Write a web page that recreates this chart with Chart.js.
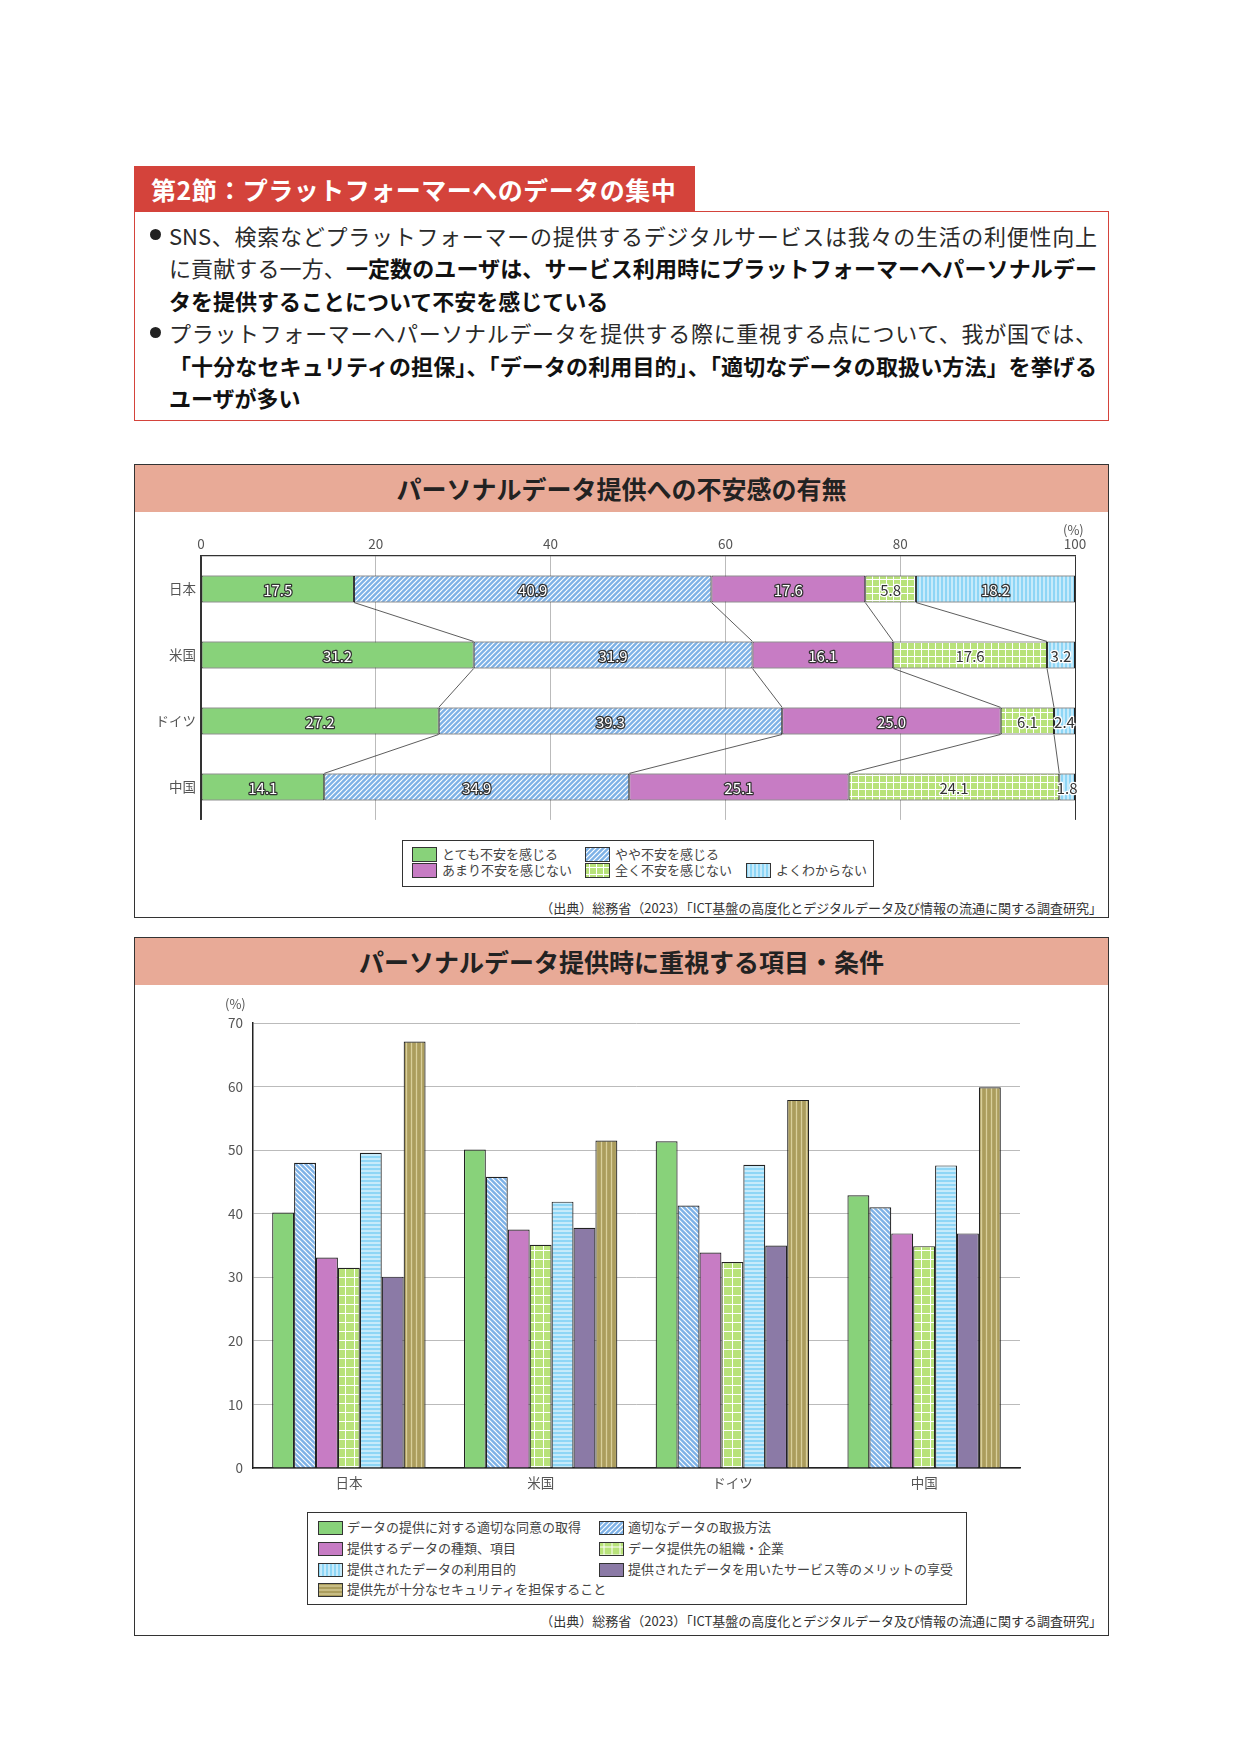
<!DOCTYPE html>
<html lang="ja">
<head>
<meta charset="utf-8">
<script src="https://cdn.jsdelivr.net/npm/chart.js@4.4.0/dist/chart.umd.min.js"></script>
<style>
body { margin: 0; background: #fff; font-family: "Noto Sans CJK JP", "Noto Sans", sans-serif; color: #222; }
#page { position: relative; width: 1241px; height: 1754px; overflow: hidden; }
.abs { position: absolute; }
.tab { left: 134px; top: 166px; width: 561px; height: 46px; background: #d4433b; color: #fff;
  font-weight: bold; font-size: 25px; line-height: 46px; padding-left: 17px; box-sizing: border-box; white-space: nowrap; letter-spacing: 0.5px; }
.outline { left: 134px; top: 211px; width: 975px; height: 210px; border: 1.5px solid #d4433b; box-sizing: border-box; }
.line { left: 169px; width: 928px; height: 32px; line-height: 32px; font-size: 22px; white-space: nowrap; color: #2a2a2a; }
.line.full { text-align: justify; text-align-last: justify; }
.line b { color: #111; }
.dot { width: 11px; height: 11px; border-radius: 50%; background: #222; left: 150px; }
.box { left: 134px; width: 975px; border: 1.5px solid #333; box-sizing: border-box; }
.head { left: 0; top: 0; width: 100%; height: 47px; background: #e8aa97; text-align: center;
  font-weight: bold; font-size: 25px; line-height: 47px; color: #222; }
.legend { border: 1px solid #333; box-sizing: border-box; }
.item { height: 16px; line-height: 16px; font-size: 13px; color: #444; white-space: nowrap; }
.item canvas { position: absolute; left: 0; border: 1px solid #333; box-sizing: border-box; }
.item span { position: absolute; }
.src { right: 139px; font-size: 13px; color: #333; white-space: nowrap; height: 18px; line-height: 18px; }
.unit { font-size: 13px; color: #555; height: 16px; line-height: 16px; }
</style>
</head>
<body>
<div id="page">
  <div class="abs tab">第2節：プラットフォーマーへのデータの集中</div>
  <div class="abs outline"></div>
  <div class="abs dot" style="top:229px"></div>
  <div class="abs line full" style="top:219px">SNS、検索などプラットフォーマーの提供するデジタルサービスは我々の生活の利便性向上</div>
  <div class="abs line full" style="top:251px">に貢献する一方、<b>一定数のユーザは、サービス利用時にプラットフォーマーへパーソナルデー</b></div>
  <div class="abs line" style="top:284px"><b>タを提供することについて不安を感じている</b></div>
  <div class="abs dot" style="top:327px"></div>
  <div class="abs line full" style="top:316px">プラットフォーマーへパーソナルデータを提供する際に重視する点について、我が国では、</div>
  <div class="abs line full" style="top:349px"><b>「十分なセキュリティの担保」、「データの利用目的」、「適切なデータの取扱い方法」を挙げる</b></div>
  <div class="abs line" style="top:381px"><b>ユーザが多い</b></div>

  <div class="abs box" style="top:464px;height:454px">
    <div class="abs head">パーソナルデータ提供への不安感の有無</div>
  </div>
  <canvas id="c1" class="abs" width="975" height="320" style="left:134px;top:513px"></canvas>
  <div class="abs unit" style="left:1063px;top:522px">(%)</div>
  <div id="leg1" class="abs legend" style="left:402px;top:840px;width:472px;height:47px"></div>
  <div class="abs src" style="top:899px">（出典）総務省（2023）「ICT基盤の高度化とデジタルデータ及び情報の流通に関する調査研究」</div>

  <div class="abs box" style="top:937px;height:699px">
    <div class="abs head">パーソナルデータ提供時に重視する項目・条件</div>
  </div>
  <canvas id="c2" class="abs" width="975" height="520" style="left:134px;top:985px"></canvas>
  <div class="abs unit" style="left:225px;top:996px">(%)</div>
  <div id="leg2" class="abs legend" style="left:307px;top:1512px;width:660px;height:93px"></div>
  <div class="abs src" style="top:1612px">（出典）総務省（2023）「ICT基盤の高度化とデジタルデータ及び情報の流通に関する調査研究」</div>
</div>

<script>
// categories
const countries = ['日本', '米国', 'ドイツ', '中国'];

// chart 1: anxiety about providing personal data (%)
const anxietyLabels = ['とても不安を感じる', 'やや不安を感じる', 'あまり不安を感じない', '全く不安を感じない', 'よくわからない'];
const veryAnxious = [17.5, 31.2, 27.2, 14.1];
const somewhatAnxious = [40.9, 31.9, 39.3, 34.9];
const notVeryAnxious = [17.6, 16.1, 25.0, 25.1];
const notAtAllAnxious = [5.8, 17.6, 6.1, 24.1];
const dontKnow = [18.2, 3.2, 2.4, 1.8];
const pctTicks = [0, 20, 40, 60, 80, 100];

// chart 2: items considered important (%)
const itemLabels = [
  'データの提供に対する適切な同意の取得',
  '適切なデータの取扱方法',
  '提供するデータの種類、項目',
  'データ提供先の組織・企業',
  '提供されたデータの利用目的',
  '提供されたデータを用いたサービス等のメリットの享受',
  '提供先が十分なセキュリティを担保すること'
];
const consent = [40.2, 50.1, 51.4, 42.9];
const handling = [48.0, 45.8, 41.3, 41.0];
const dataTypes = [33.1, 37.5, 33.9, 36.9];
const recipient = [31.5, 35.1, 32.4, 34.9];
const purpose = [49.6, 41.9, 47.7, 47.6];
const benefit = [30.1, 37.8, 35.0, 36.9];
const security = [67.1, 51.5, 57.9, 59.9];
const scoreTicks = [0, 10, 20, 30, 40, 50, 60, 70];

Chart.defaults.font.family = '"Noto Sans CJK JP", "Noto Sans", sans-serif';

// small tiled pattern: solid base plus lines
function pat(ctx, base, line, kind, gap, lw) {
  const c = document.createElement('canvas');
  c.width = gap; c.height = gap;
  const g = c.getContext('2d');
  g.fillStyle = base;
  g.fillRect(0, 0, gap, gap);
  if (kind === 'solid') return ctx.createPattern(c, 'repeat');
  g.strokeStyle = line;
  g.lineWidth = lw;
  g.beginPath();
  if (kind === 'v' || kind === 'grid') { g.moveTo(gap / 2, 0); g.lineTo(gap / 2, gap); }
  if (kind === 'h' || kind === 'grid') { g.moveTo(0, gap / 2); g.lineTo(gap, gap / 2); }
  if (kind === '/') {
    g.moveTo(-1, gap + 1); g.lineTo(gap + 1, -1);
    g.moveTo(-1, 1); g.lineTo(1, -1);
    g.moveTo(gap - 1, gap + 1); g.lineTo(gap + 1, gap - 1);
  }
  if (kind === '\\') {
    g.moveTo(-1, -1); g.lineTo(gap + 1, gap + 1);
    g.moveTo(gap - 1, -1); g.lineTo(gap + 1, 1);
    g.moveTo(-1, gap - 1); g.lineTo(1, gap + 1);
  }
  g.stroke();
  return ctx.createPattern(c, 'repeat');
}

const GREEN = '#88d27a', MAGENTA = '#c77cc4', PURPLE = '#8b7aa6';

// pattern specs [base, line, kind, gap, lineWidth]
const specs1 = [
  [GREEN, null, 'solid', 4, 0],
  ['#7db1e6', '#fff', '/', 5, 1.2],
  [MAGENTA, null, 'solid', 4, 0],
  ['#b8e27a', '#fff', 'grid', 7, 1],
  ['#8ed6f6', '#fff', 'v', 4, 1]
];
const specs2 = [
  [GREEN, null, 'solid', 4, 0],
  ['#7db1e6', '#fff', '\\', 5, 1.2],
  [MAGENTA, null, 'solid', 4, 0],
  ['#b8e27a', '#fff', 'grid', 9, 1],
  ['#8ed6f6', '#fff', 'h', 4, 1],
  [PURPLE, null, 'solid', 4, 0],
  ['#ab9d5d', '#d9cf9b', 'v', 5, 1.3]
];
const specs2Legend = [
  specs2[0], ['#7db1e6', '#fff', '/', 5, 1.2], specs2[2], ['#b8e27a', '#fff', 'grid', 8, 1],
  ['#8ed6f6', '#fff', 'v', 4, 1], specs2[5], ['#ab9d5d', '#d9cf9b', 'h', 4, 1.3]
];

// connecting lines between stacked segments of neighbouring rows
const connectors = {
  id: 'connectors',
  afterDatasetsDraw(chart) {
    const ctx = chart.ctx;
    ctx.save();
    ctx.strokeStyle = '#333';
    ctx.lineWidth = 0.8;
    for (let k = 0; k < chart.data.datasets.length - 1; k++) {
      const els = chart.getDatasetMeta(k).data;
      for (let i = 0; i < els.length - 1; i++) {
        const a = els[i].getProps(['x', 'y', 'height'], true);
        const b = els[i + 1].getProps(['x', 'y', 'height'], true);
        ctx.beginPath();
        ctx.moveTo(a.x, a.y + a.height / 2);
        ctx.lineTo(b.x, b.y - b.height / 2);
        ctx.stroke();
      }
    }
    ctx.restore();
  }
};

// value labels on segments
const segLabels = {
  id: 'segLabels',
  afterDatasetsDraw(chart) {
    const ctx = chart.ctx;
    ctx.save();
    ctx.font = '15px "Noto Sans CJK JP", "Noto Sans", sans-serif';
    ctx.textAlign = 'center';
    ctx.textBaseline = 'middle';
    ctx.lineJoin = 'round';
    chart.data.datasets.forEach((ds, i) => {
      chart.getDatasetMeta(i).data.forEach((el, j) => {
        const v = ds.data[j];
        const p = el.getCenterPoint();
        const light = i === 3 || (i === 4 && v < 10);
        ctx.lineWidth = 2.5;
        ctx.strokeStyle = light ? '#fff' : '#333';
        ctx.fillStyle = light ? '#333' : '#fff';
        const t = v.toFixed(1);
        ctx.strokeText(t, p.x, p.y + 1);
        ctx.fillText(t, p.x, p.y + 1);
      });
    });
    ctx.restore();
  }
};

const ctx1 = document.getElementById('c1').getContext('2d');
const series1 = [veryAnxious, somewhatAnxious, notVeryAnxious, notAtAllAnxious, dontKnow];
new Chart(ctx1, {
  type: 'bar',
  data: {
    labels: countries,
    datasets: series1.map((d, i) => ({
      label: anxietyLabels[i],
      data: d,
      backgroundColor: pat(ctx1, ...specs1[i]),
      borderColor: '#222',
      borderWidth: 1,
      borderSkipped: false,
      barPercentage: 0.41,
      categoryPercentage: 1
    }))
  },
  options: {
    indexAxis: 'y',
    responsive: false,
    animation: false,
    layout: { padding: { top: 0, right: 34, bottom: 13, left: 0 } },
    plugins: { legend: { display: false }, tooltip: { enabled: false } },
    scales: {
      x: {
        position: 'top',
        stacked: true,
        min: pctTicks[0],
        max: pctTicks[pctTicks.length - 1],
        ticks: { stepSize: pctTicks[1] - pctTicks[0], color: '#555', font: { size: 13.5 }, padding: 4 },
        grid: {
          color: c => (c.tick && (c.tick.value === 0 || c.tick.value === 100)) ? '#333' : '#bbb',
          drawTicks: false
        },
        border: { color: '#333', width: 1.2 },
        afterFit: s => { s.height = 43; }
      },
      y: {
        stacked: true,
        ticks: { color: '#555', font: { size: 13.5 }, padding: 5 },
        grid: { display: false, drawTicks: false },
        border: { color: '#333', width: 1.2 },
        afterFit: s => { s.width = 67; }
      }
    }
  },
  plugins: [connectors, segLabels]
});

const ctx2 = document.getElementById('c2').getContext('2d');
const series2 = [consent, handling, dataTypes, recipient, purpose, benefit, security];
new Chart(ctx2, {
  type: 'bar',
  data: {
    labels: countries,
    datasets: series2.map((d, i) => ({
      label: itemLabels[i],
      data: d,
      backgroundColor: pat(ctx2, ...specs2[i]),
      borderColor: '#222',
      borderWidth: 1.2,
      borderSkipped: 'bottom',
      barPercentage: 1,
      categoryPercentage: 0.8
    }))
  },
  options: {
    responsive: false,
    animation: false,
    layout: { padding: { top: 38, right: 89, bottom: 12, left: 0 } },
    plugins: { legend: { display: false }, tooltip: { enabled: false } },
    scales: {
      x: {
        ticks: { color: '#555', font: { size: 13.5 }, padding: 7 },
        grid: { display: false, drawTicks: false },
        border: { color: '#222', width: 1.5 },
        afterFit: s => { s.height = 25; }
      },
      y: {
        min: scoreTicks[0],
        max: scoreTicks[scoreTicks.length - 1],
        ticks: { stepSize: scoreTicks[1] - scoreTicks[0], color: '#555', font: { size: 13.5 }, padding: 10 },
        grid: { color: '#bbb', drawTicks: false },
        border: { color: '#222', width: 1.5 },
        afterFit: s => { s.width = 119; }
      }
    }
  }
});

// html legends with patterned swatches
function buildLegend(id, labels, specs, slots, sw, sh, textX) {
  const box = document.getElementById(id);
  labels.forEach((lab, i) => {
    const item = document.createElement('div');
    item.className = 'abs item';
    item.style.left = slots[i][0] + 'px';
    item.style.top = (slots[i][1] - 8) + 'px';
    item.style.width = '300px';
    const cv = document.createElement('canvas');
    cv.width = sw; cv.height = sh;
    cv.style.top = ((16 - sh) / 2) + 'px';
    const g = cv.getContext('2d');
    g.fillStyle = pat(g, ...specs[i]);
    g.fillRect(0, 0, sw, sh);
    const sp = document.createElement('span');
    sp.style.left = textX + 'px';
    sp.textContent = lab;
    item.appendChild(cv);
    item.appendChild(sp);
    box.appendChild(item);
  });
}

buildLegend('leg1', anxietyLabels, specs1,
  [[9, 12.5], [182, 12.5], [9, 28.5], [182, 28.5], [343, 28.5]], 23, 13, 30);
buildLegend('leg2', itemLabels, specs2Legend,
  [[10, 14], [291, 14], [10, 35], [291, 35], [10, 55.5], [291, 55.5], [10, 76]], 23, 12, 29);
</script>
</body>
</html>
